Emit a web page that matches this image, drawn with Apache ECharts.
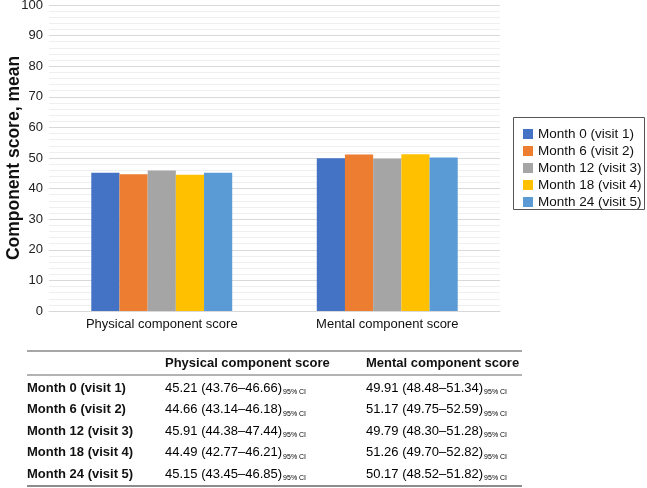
<!DOCTYPE html>
<html><head><meta charset="utf-8">
<script src="https://cdn.jsdelivr.net/npm/echarts@6/dist/echarts.min.js"></script>
<style>html,body{margin:0;padding:0;background:#fff}#c{width:647px;height:488px}</style>
</head><body><div id="c"></div>
<script>
var categories = ['Physical component score', 'Mental component score'];
var seriesNames = ['Month 0 (visit 1)', 'Month 6 (visit 2)', 'Month 12 (visit 3)', 'Month 18 (visit 4)', 'Month 24 (visit 5)'];
var physMean = [45.21, 44.66, 45.91, 44.49, 45.15];
var physCI = ['43.76–46.66', '43.14–46.18', '44.38–47.44', '42.77–46.21', '43.45–46.85'];
var mentMean = [49.91, 51.17, 49.79, 51.26, 50.17];
var mentCI = ['48.48–51.34', '49.75–52.59', '48.30–51.28', '49.70–52.82', '48.52–51.82'];
var colors = ['#4472C4', '#ED7D31', '#A5A5A5', '#FFC000', '#5B9BD5'];

var FONT = '"Liberation Sans", Arial, sans-serif';
var chart = echarts.init(document.getElementById('c'));

var series = seriesNames.map(function (n, i) {
  return {
    name: n, type: 'bar', data: [physMean[i], mentMean[i]],
    itemStyle: { color: colors[i] }, barGap: '0%', barCategoryGap: '37.5%'
  };
});

var graphics = [];
var tL = 27, tR = 522, colP = 165, colM = 366;
graphics.push({ type: 'line', shape: { x1: tL, y1: 351, x2: tR, y2: 351 }, style: { stroke: '#888', lineWidth: 1.5 } });
graphics.push({ type: 'line', shape: { x1: tL, y1: 375, x2: tR, y2: 375 }, style: { stroke: '#666', lineWidth: 1 } });
graphics.push({ type: 'line', shape: { x1: tL, y1: 486, x2: tR, y2: 486 }, style: { stroke: '#666', lineWidth: 1.5 } });
graphics.push({ type: 'text', x: colP, y: 363, style: { text: categories[0], font: 'bold 13px ' + FONT, fill: '#111', textVerticalAlign: 'middle' } });
graphics.push({ type: 'text', x: colM, y: 363, style: { text: categories[1], font: 'bold 13px ' + FONT, fill: '#111', textVerticalAlign: 'middle' } });
var rowY = [388, 409.5, 431, 452.5, 474];
var rich = {
  a: { fontSize: 13, fontFamily: FONT, color: '#111', lineHeight: 16 },
  s: { fontSize: 7, fontFamily: FONT, color: '#111', lineHeight: 16, padding: [9, 0, 0, 1] }
};
seriesNames.forEach(function (n, i) {
  graphics.push({ type: 'text', x: tL, y: rowY[i], style: { text: n, font: 'bold 13px ' + FONT, fill: '#111', textVerticalAlign: 'middle' } });
  graphics.push({ type: 'text', x: colP, y: rowY[i], style: { text: '{a|' + physMean[i].toFixed(2) + ' (' + physCI[i] + ')}{s|95% CI}', rich: rich, textVerticalAlign: 'middle' } });
  graphics.push({ type: 'text', x: colM, y: rowY[i], style: { text: '{a|' + mentMean[i].toFixed(2) + ' (' + mentCI[i] + ')}{s|95% CI}', rich: rich, textVerticalAlign: 'middle' } });
});
graphics.push({ type: 'rect', shape: { x: 513.5, y: 117.5, width: 131, height: 92 }, style: { fill: 'none', stroke: '#555', lineWidth: 1 } });

chart.setOption({
  animation: false,
  textStyle: { fontFamily: FONT },
  grid: { left: 49, right: 147, top: 5, bottom: 177, containLabel: false, outerBoundsMode: 'none' },
  legend: {
    orient: 'vertical', left: 518, top: 122, itemWidth: 10, itemHeight: 10, itemGap: 3,
    icon: 'rect', textStyle: { fontSize: 13.5, color: '#111', fontFamily: FONT },
    data: seriesNames
  },
  xAxis: {
    type: 'category', data: categories,
    axisLine: { show: true, lineStyle: { color: '#d9d9d9' } },
    axisTick: { show: false },
    axisLabel: { fontSize: 13, color: '#111', margin: 7 }
  },
  yAxis: {
    type: 'value', min: 0, max: 100, interval: 10,
    name: 'Component score, mean', nameLocation: 'middle', nameGap: 26, nameMoveOverlap: false,
    nameTextStyle: { fontSize: 17.5, fontWeight: 'bold', color: '#111' },
    axisLine: { show: false }, axisTick: { show: false },
    axisLabel: { fontSize: 13, color: '#222', margin: 6 },
    splitLine: { lineStyle: { color: '#d9d9d9', width: 1 } },
    minorTick: { show: false, splitNumber: 5 },
    minorSplitLine: { show: true, lineStyle: { color: '#efefef', width: 1 } }
  },
  series: series,
  graphic: graphics
});
</script></body></html>
